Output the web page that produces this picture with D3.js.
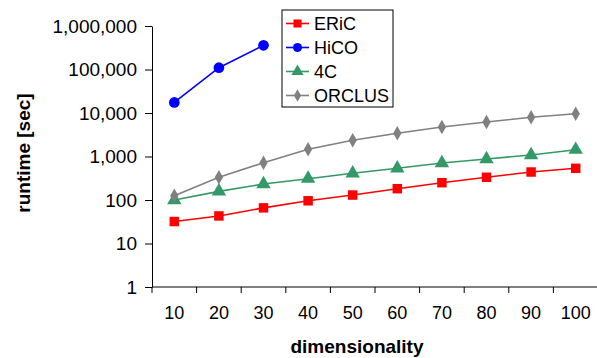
<!DOCTYPE html>
<html lang="en">
<head>
<meta charset="utf-8">
<script src="https://d3js.org/d3.v7.min.js"></script>
<style>
  body { margin: 0; background: #fff; }
  text { font-family: "Liberation Sans", Arial, sans-serif; }
</style>
</head>
<body>
<script>
// data
const dims = ["10", "20", "30", "40", "50", "60", "70", "80", "90", "100"];
const eric   = [32, 43, 66, 96, 130, 182, 250, 333, 440, 535];
const hico   = [17500, 110000, 360000];
const fourC  = [100, 158, 233, 309, 411, 535, 709, 877, 1082, 1433];
const orclus = [125, 333, 720, 1465, 2355, 3410, 4770, 6210, 7960, 9640];
const yTicks = [1, 10, 100, 1000, 10000, 100000, 1000000];

const series = [
  { name: "ERiC",   values: eric,   color: "#ff0000", shape: d3.symbolSquare },
  { name: "HiCO",   values: hico,   color: "#0000ff", shape: d3.symbolCircle },
  { name: "4C",     values: fourC,  color: "#339966", shape: d3.symbolTriangle },
  { name: "ORCLUS", values: orclus, color: "#808080", shape: d3.symbolDiamond }
];

const w = 597, h = 358;
const mLeft = 152, mRight = 598, mTop = 26, mBottom = 287;

const svg = d3.select("body").append("svg")
  .attr("width", w)
  .attr("height", h);

let x = d3.scaleBand().domain(dims).range([mLeft, mRight]);
let y = d3.scaleLog().domain([1, 1000000]).range([mBottom, mTop]);

// y axis
const yAxis = svg.append("g")
  .attr("transform", "translate(" + mLeft + ",0)")
  .call(d3.axisLeft(y).tickValues(yTicks).tickFormat(d3.format(",")).tickSize(7).tickPadding(8).tickSizeOuter(0));
yAxis.select(".domain").attr("stroke", "#000");
yAxis.selectAll("text").attr("font-size", 19).attr("fill", "#000")
  .attr("font-family", "Liberation Sans, Arial, sans-serif");

// x axis (ticks between categories)
const xAxis = svg.append("g")
  .attr("transform", "translate(0," + mBottom + ")");
xAxis.append("line")
  .attr("x1", mLeft).attr("x2", mRight)
  .attr("stroke", "#000");
xAxis.selectAll(".tk")
  .data(dims)
  .join("line")
  .attr("class", "tk")
  .attr("x1", d => x(d)).attr("x2", d => x(d))
  .attr("y1", 0).attr("y2", 6)
  .attr("stroke", "#000");
xAxis.selectAll("text")
  .data(dims)
  .join("text")
  .attr("x", d => x(d) + x.bandwidth() / 2)
  .attr("y", 32)
  .attr("text-anchor", "middle")
  .attr("font-size", 18)
  .text(d => d);

// axis titles
svg.append("text")
  .attr("x", 357).attr("y", 353)
  .attr("text-anchor", "middle")
  .attr("font-size", 19).attr("font-weight", "bold")
  .text("dimensionality");
svg.append("text")
  .attr("transform", "translate(29.5,153) rotate(-90)")
  .attr("text-anchor", "middle")
  .attr("font-size", 19).attr("font-weight", "bold")
  .text("runtime [sec]");

// lines and markers
let line = d3.line()
  .x((d, i) => x(dims[i]) + x.bandwidth() / 2)
  .y(d => y(d));

series.forEach(function (s) {
  svg.append("path")
    .attr("d", line(s.values))
    .attr("fill", "none")
    .attr("stroke", s.color)
    .attr("stroke-width", 1.6);
  svg.selectAll(null)
    .data(s.values)
    .join("path")
    .attr("transform", (d, i) => "translate(" + (x(dims[i]) + x.bandwidth() / 2) + "," + y(d) + ")")
    .attr("d", d3.symbol().type(s.shape).size(s.shape === d3.symbolDiamond ? 60 : 90))
    .attr("fill", s.color);
});

// legend
const lg = svg.append("g");
lg.append("rect")
  .attr("x", 282).attr("y", 10)
  .attr("width", 111).attr("height", 97)
  .attr("fill", "#fff").attr("stroke", "#000");
series.forEach(function (s, i) {
  const ly = 23.5 + i * 24;
  lg.append("line")
    .attr("x1", 286).attr("x2", 309)
    .attr("y1", ly).attr("y2", ly)
    .attr("stroke", s.color).attr("stroke-width", 1.6);
  lg.append("path")
    .attr("transform", "translate(297.5," + ly + ")")
    .attr("d", d3.symbol().type(s.shape).size(s.shape === d3.symbolDiamond ? 45 : 65))
    .attr("fill", s.color);
  lg.append("text")
    .attr("x", 314).attr("y", ly + 6.5)
    .attr("font-size", 18)
    .text(s.name);
});
</script>
</body>
</html>
